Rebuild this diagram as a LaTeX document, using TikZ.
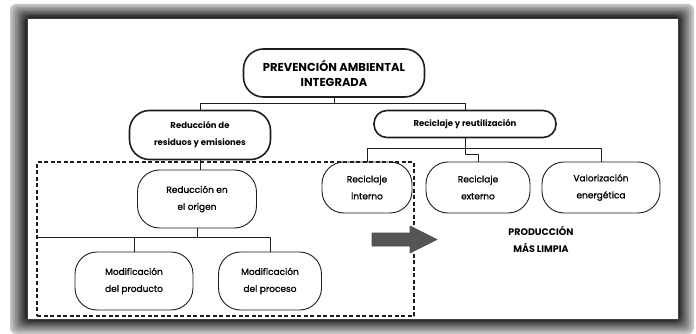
\documentclass[tikz,border=0pt]{standalone}
\usepackage{fontspec}
\setmainfont{Poppins}
\newfontfamily\medio[FakeBold=1.2]{Poppins}
\usepackage{tikz}
\usetikzlibrary{positioning}
\definecolor{tinta}{RGB}{30,30,30}
\definecolor{flechagris}{RGB}{85,85,85}
\tikzstyle{PA_style}=[
	x=1pt,y=-1pt,line join=round,
	raiz/.style={rectangle,rounded corners=20pt,draw=tinta,line width=1.6pt,fill=white,align=center,inner sep=0pt,minimum width=181pt,minimum height=48pt,font=\bfseries\fontsize{11.5}{15}\selectfont},
	rama/.style={rectangle,rounded corners=20pt,draw=tinta,line width=1.6pt,fill=white,align=center,inner sep=0pt,font=\bfseries\fontsize{8.5}{17}\selectfont},
	hoja/.style={rectangle,rounded corners=22pt,draw=tinta,line width=0.9pt,fill=white,align=center,inner sep=0pt,minimum height=51pt,font=\medio\fontsize{9}{17}\selectfont},
	titulo/.style={rectangle,draw=none,align=center,inner sep=0pt,font=\bfseries\fontsize{9.5}{17}\selectfont},
	caja/.style={rectangle,draw=tinta,line width=1.3pt,dash pattern=on 4pt off 2.5pt,inner sep=0pt},
	conector/.style={draw=tinta,line width=0.9pt}
]

\begin{document}
\begin{tikzpicture}[PA_style]
		
		\useasboundingbox (0,0) rectangle (696,334);
		
		% marco con sombra
		\foreach \i [evaluate=\i as \g using int(22+7*\i)] in {0,...,9}
		\fill[black!\g,rounded corners=6pt] (10+\i*1.7,4+\i*1.4) rectangle (694-\i*1.6,334-\i*1.5);
		\fill[white,draw=black!75,line width=0.8pt] (27,18) rectangle (678,319);
		
		\node[raiz]    (pai)  at (334,73)   {PREVENCIÓN AMBIENTAL\\INTEGRADA};
		
		\node[rama,minimum width=141pt,minimum height=49pt]    (red)  at (200,135)  {Reducción de\\residuos y emisiones};
		\node[rama,minimum width=182pt,minimum height=27pt,rounded corners=13pt]    (rec)  at (465,124)  {Reciclaje y reutilización};
		
		\node[hoja,minimum width=90pt]     (rint) at (367,187.5) {Reciclaje\\interno};
		\node[hoja,minimum width=104pt]    (rext) at (478,187.5) {Reciclaje\\externo};
		\node[hoja,minimum width=118pt]    (val)  at (601,187.5) {Valorización\\energética};
		
		\node[hoja,minimum width=119pt,minimum height=58pt]    (rorig) at (197,199) {Reducción en\\el origen};
		\node[hoja,minimum width=118pt,minimum height=58pt]    (mprod) at (134,281) {Modificación\\del producto};
		\node[hoja,minimum width=103pt,minimum height=58pt]    (mproc) at (270,281) {Modificación\\del proceso};
		
		\node[titulo]  (pml)  at (541,239)  {PRODUCCIÓN\\MÁS LIMPIA};
		
		\node[caja,minimum width=377pt,minimum height=154pt]   (zona) at (225.5,239) {};
		
		% conexiones
		\path[conector] (pai.south) -- ++(0,6) -| (red.north)
		(pai.south) -- ++(0,6) -| (rec.north);
		
		\path[conector] (rint.north) -- ++(0,-13) -| (val.north)
		(rec.south) -- ++(0,16.5) -| (rext.north);
		
		\path[conector] (red.south) -- (red.south |- rorig.north)
		(rorig.south) -- ++(0,9) coordinate (bus)
		(zona.west |- bus) -- (mproc.north |- bus) -- (mproc.north)
		(mprod.north |- bus) -- (mprod.north);
		
		% flecha
		\fill[flechagris,draw=black!70,line width=0.6pt] (372,233) -- (410,233) -- (410,226) -- (437,239.5) -- (410,253) -- (410,246) -- (372,246) -- cycle;
		
\end{tikzpicture}
\end{document}
